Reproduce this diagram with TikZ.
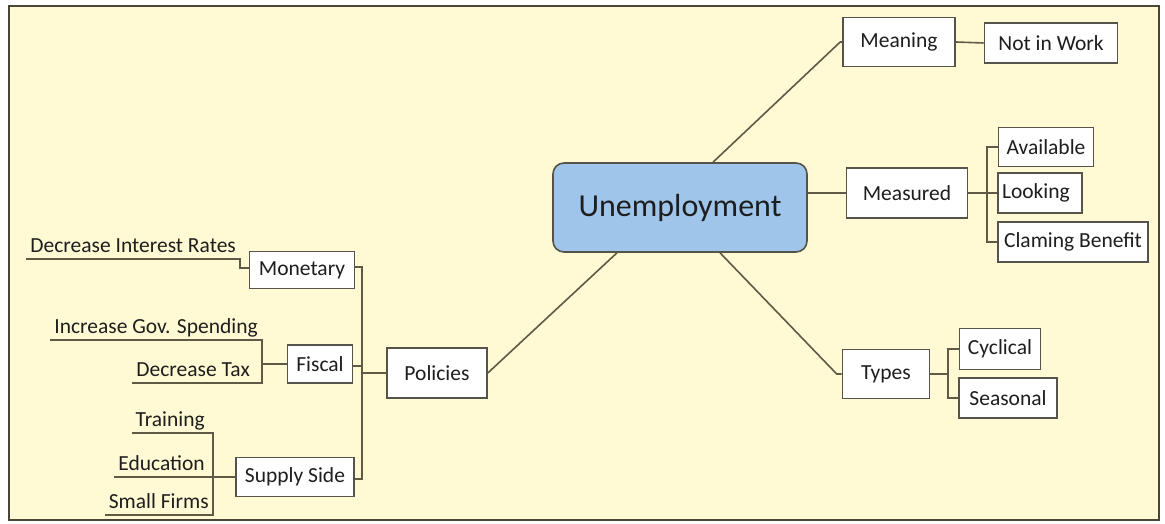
\documentclass[tikz,border=0pt]{standalone}
\usepackage{fontspec}
\setmainfont{Carlito}
\definecolor{bg}{HTML}{FFFAD4}
\definecolor{frame}{HTML}{4A4636}
\definecolor{boxline}{HTML}{55534A}
\definecolor{connline}{HTML}{5E5A46}
\definecolor{txt}{HTML}{1E1E1E}
\definecolor{hub}{HTML}{9FC6EA}
\begin{document}
\begin{tikzpicture}[x=1pt,y=-1pt,
  box/.style={draw=boxline, line width=1.6pt, fill=white, inner sep=0pt,
    font=\fontsize{21.5}{24}\selectfont, text=txt},
  leaf/.style={inner xsep=4pt, inner ysep=1pt, text depth=5pt, anchor=south east,
    font=\fontsize{21.5}{24}\selectfont, text=txt},
  conn/.style={draw=connline, line width=1.6pt}]
\useasboundingbox (0,0) rectangle (1165,524);
\fill[white] (0,0) rectangle (1165,524);
\draw[fill=bg, draw=frame, line width=2.5pt] (9,6) rectangle (1159,520);

% hub
\node[draw=boxline, line width=1.6pt, fill=hub, rounded corners=11pt,
  minimum width=254pt, minimum height=89pt, inner sep=0pt,
  font=\fontsize{32}{36}\selectfont, text=txt] (unemp) at (680,207.5) {Unemployment};

% right side
\node[box, minimum width=112pt, minimum height=49pt] (mea) at (899,42) {Meaning};
\node[box, minimum width=133pt, minimum height=40pt] (niw) at (1051,43) {Not in Work};
\node[box, minimum width=121pt, minimum height=50pt] (msr) at (907,193) {Measured};
\node[box, minimum width=95pt, minimum height=39pt] (ava) at (1046,147) {Available};
\node[box, minimum width=84pt, minimum height=40pt, text width=76pt, align=left] (lok) at (1040,193) {Looking};
\node[box, minimum width=150pt, minimum height=40pt] (clb) at (1073,242) {Claming Benefit};
\node[box, minimum width=87pt, minimum height=49pt] (typ) at (886,374) {Types};
\node[box, minimum width=81pt, minimum height=41pt] (cyc) at (1000,349) {Cyclical};
\node[box, minimum width=98pt, minimum height=40pt] (sea) at (1008,398) {Seasonal};

% left side
\node[box, minimum width=100pt, minimum height=50pt] (pol) at (437,373) {Policies};
\node[box, minimum width=105pt, minimum height=37pt] (mon) at (302,270) {Monetary};
\node[box, minimum width=65pt, minimum height=38pt] (fis) at (320,364) {Fiscal};
\node[box, minimum width=118pt, minimum height=39pt] (sup) at (295,477) {Supply Side};

\node[leaf] (dir) at (240,259) {Decrease Interest Rates};
\node[leaf] (igs) at (262,340) {Increase Gov. Spending};
\node[leaf] (dtx) at (254,383) {Decrease Tax};
\node[leaf] (trn) at (209,433) {Training};
\node[leaf] (edu) at (209,477) {Education};
\node[leaf] (sfm) at (213,515) {Small Firms};

\coordinate (pb) at (362,0);
\coordinate (mb) at (987,0);
\coordinate (tb) at (948,0);

% hub connectors
\draw[conn] (pol.east) -- ([xshift=-63pt]unemp.south);
\draw[conn] ([xshift=33pt]unemp.north) -- ([xshift=-2pt]mea.west) -- (mea.west);
\draw[conn] (unemp.east |- msr.west) -- (msr.west);
\draw[conn] ([xshift=40pt]unemp.south) -- ([xshift=-5pt]typ.west) -- (typ.west);

% right brackets
\draw[conn] (mea.east) -- (niw.west);
\draw[conn] (ava.west) -- (ava.west -| mb) -- (clb.west -| mb) -- (clb.west);
\draw[conn] (msr.east) -- (lok.west);
\draw[conn] (cyc.west) -- (cyc.west -| tb) -- (sea.west -| tb) -- (sea.west);
\draw[conn] (typ.east) -- (typ.east -| tb);

% left brackets
\draw[conn] ([yshift=3pt]mon.east) -- ([yshift=3pt]mon.east -| pb) -- ([yshift=-2pt]sup.east -| pb) -- ([yshift=-2pt]sup.east);
\draw[conn] ([yshift=-2pt]fis.east) -- ([yshift=-2pt]fis.east -| pb);
\draw[conn] (pol.west) -- (pol.west -| pb);

\draw[conn] (dir.south west) -- (dir.south east) |- ([yshift=2pt]mon.west);
\draw[conn] (igs.south west) -- (igs.south east) -- (dtx.south -| igs.south east) -- (dtx.south west);
\draw[conn] (fis.west -| igs.south east) -- (fis.west);
\draw[conn] (trn.south west) -- (trn.south east) -- (trn.south east -| sfm.south east) -- (sfm.south east) -- (sfm.south west);
\draw[conn] (edu.south west) -- (sup.west);
\end{tikzpicture}
\end{document}
